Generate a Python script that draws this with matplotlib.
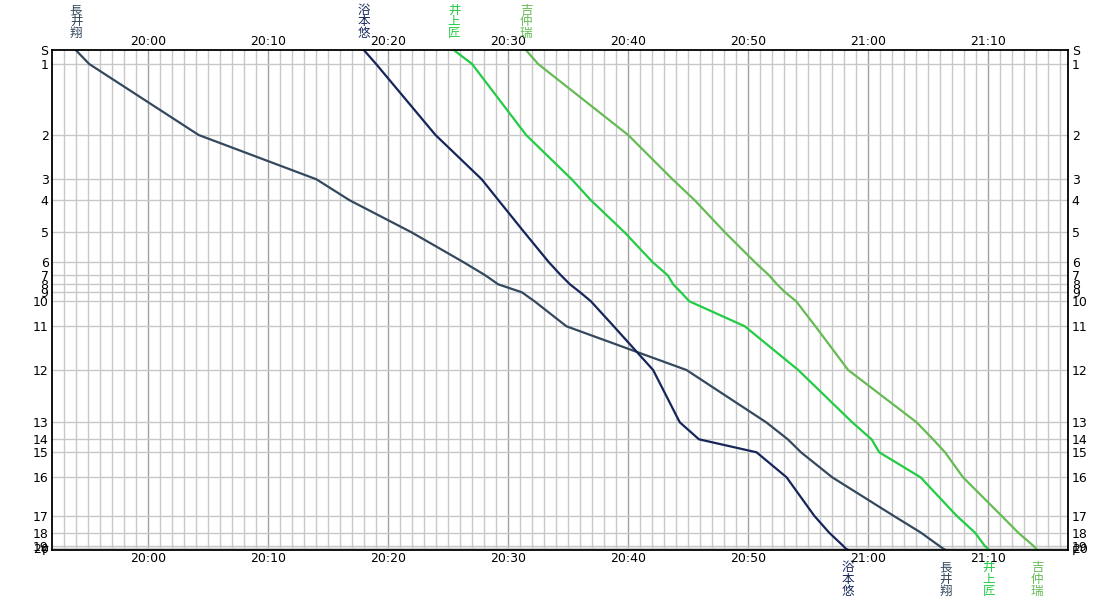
import matplotlib
matplotlib.use("Agg")
import matplotlib.pyplot as plt
import matplotlib.transforms as mtransforms
from matplotlib.ticker import FixedLocator

plt.rcParams['font.family'] = ['Noto Sans CJK JP', 'DejaVu Sans']

# control points and their position along the course (top = start)
controls = ["S", "1", "2", "3", "4", "5", "6", "7", "8", "9", "10",
            "11", "12", "13", "14", "15", "16", "17", "18", "19", "20", "F"]
control_pos = [0, 13.7, 84.7, 129.0, 150.0, 182.0, 212.0, 225.0, 234.0, 242.0, 251.0,
               276.0, 319.7, 372.0, 389.0, 402.0, 427.0, 465.4, 482.4, 495.4, 498.0, 499.7]

# passing times, minutes after 20:00
runners = ["長井翔", "浴本悠", "井上匠", "吉仲瑞"]
nagai = [-6.0, -4.9, 4.22, 14.03, 16.8, 21.95, 26.3, 28.1, 29.17, 31.15, 32.2,
         34.86, 44.86, 51.5, 53.3, 54.4, 57.0, 62.1, 64.4, 65.9, 66.2, 66.44]
ekimoto = [18.0, 19.0, 23.95, 27.8, 29.2, 31.35, 33.4, 34.4, 35.15, 36.0, 36.9,
           38.8, 42.08, 44.3, 45.9, 50.7, 53.2, 55.5, 56.75, 57.9, 58.1, 58.33]
inoue = [25.5, 27.0, 31.5, 35.3, 36.9, 39.7, 42.05, 43.3, 43.75, 44.4, 45.1,
         49.72, 54.17, 58.67, 60.28, 60.92, 64.36, 67.36, 68.9, 69.7, 69.94, 70.06]
yoshinaka = [31.5, 32.5, 40.0, 43.7, 45.55, 48.06, 50.57, 51.74, 52.4, 53.08, 54.0,
             55.6, 58.33, 64.03, 65.4, 66.4, 67.9, 71.1, 72.5, 73.75, 73.97, 74.08]
series = [nagai, ekimoto, inoue, yoshinaka]
colors = ["#34495e", "#16265a", "#22cc44", "#66bb55"]

time_ticks = [0, 10, 20, 30, 40, 50, 60, 70]
time_labels = ["20:00", "20:10", "20:20", "20:30", "20:40", "20:50", "21:00", "21:10"]
x_min, x_max = -8.0, 76.67

W, H = 1120, 600
fig = plt.figure(figsize=(W / 100, H / 100), dpi=100)
ax = fig.add_axes([52 / W, 1 - 550 / H, (1068.3 - 52) / W, (550 - 50.3) / H])

ax.set_xlim(x_min, x_max)
ax.set_ylim(control_pos[-1], control_pos[0])

# grid
for m in range(int(x_min) + 1, int(x_max) + 1):
    major = (m % 10 == 0)
    ax.axvline(m, color="#a0a0a0" if major else "#c8c8c8", lw=1.0, zorder=1)
for p in control_pos[1:-1]:
    ax.axhline(p, color="#c8c8c8", lw=1.0, zorder=1)

for vals, c in zip(series, colors):
    ax.plot(vals, control_pos, color=c, lw=1.6, zorder=3, solid_joinstyle="round")

ax.xaxis.set_major_locator(FixedLocator(time_ticks))
ax.set_xticklabels(time_labels)
ax.yaxis.set_major_locator(FixedLocator(control_pos))
ax.set_yticklabels(controls)
ax.tick_params(axis="x", length=0, pad=1.5, labelsize=9, top=True, labeltop=True,
               bottom=True, labelbottom=True)
ax.tick_params(axis="y", length=0, pad=2.5, labelsize=9, left=True, labelleft=True,
               right=True, labelright=True)
for lab in ax.get_xticklabels() + ax.get_yticklabels():
    lab.set_family("DejaVu Sans")

for s in ax.spines.values():
    s.set_color("black")
    s.set_linewidth(1.3)
    s.set_zorder(5)

# runner names written vertically above the start and below the finish
trans = mtransforms.blended_transform_factory(ax.transData, fig.transFigure)
top_rows = [10.5, 21.8, 33.1]
bottom_rows = [567.5, 579.5, 591.5]
for name, vals, c in zip(runners, series, colors):
    for ch, ty, by in zip(name, top_rows, bottom_rows):
        ax.text(vals[0], 1 - ty / H, ch, transform=trans, ha="center", va="center",
                color=c, fontsize=9, clip_on=False)
        ax.text(vals[-1], 1 - by / H, ch, transform=trans, ha="center", va="center",
                color=c, fontsize=9, clip_on=False)

fig.savefig("out.png", dpi=100, facecolor="white")
